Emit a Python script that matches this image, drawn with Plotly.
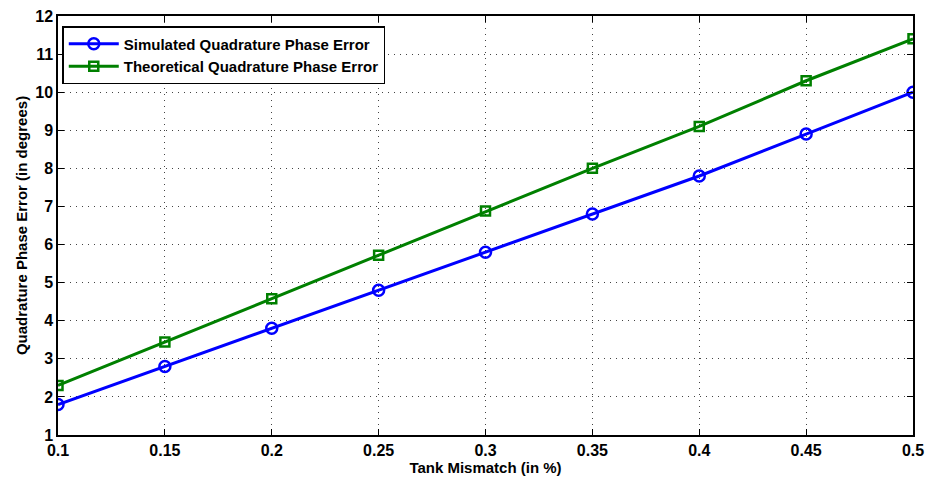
import plotly.graph_objects as go

tank_mismatch = [0.1, 0.15, 0.2, 0.25, 0.3, 0.35, 0.4, 0.45, 0.5]
simulated = [1.8, 2.8, 3.8, 4.8, 5.8, 6.8, 7.8, 8.9, 10.0]
theoretical = [2.3, 3.44, 4.58, 5.72, 6.88, 8.0, 9.1, 10.3, 11.4]
x_ticks = [0.1, 0.15, 0.2, 0.25, 0.3, 0.35, 0.4, 0.45, 0.5]
x_tick_text = ["0.1", "0.15", "0.2", "0.25", "0.3", "0.35", "0.4", "0.45", "0.5"]
y_ticks = list(range(1, 13))

fig = go.Figure()
fig.add_trace(go.Scatter(
    x=tank_mismatch, y=simulated, mode="lines+markers",
    name="Simulated Quadrature Phase Error",
    line=dict(color="#0000ff", width=3),
    marker=dict(symbol="circle-open", size=11, color="#0000ff", line=dict(width=2.5)),
))
fig.add_trace(go.Scatter(
    x=tank_mismatch, y=theoretical, mode="lines+markers",
    name="Theoretical Quadrature Phase Error",
    line=dict(color="#008000", width=3),
    marker=dict(symbol="square-open", size=9, color="#008000", line=dict(width=2.5)),
))

font_family = "Liberation Sans, Arial, sans-serif"
axis_common = dict(
    showline=True, linecolor="black", linewidth=1.5, mirror="ticks",
    ticks="inside", ticklen=6, tickcolor="black", tickwidth=1,
    showgrid=True, gridcolor="#444444", griddash="1px,5px", gridwidth=1,
    zeroline=False, automargin=False,
    tickfont=dict(family=font_family, size=16, color="black", weight="bold"),
)

fig.update_layout(
    width=925, height=478,
    margin=dict(l=58, r=12, t=16, b=43),
    plot_bgcolor="white", paper_bgcolor="white",
    font=dict(family=font_family, color="black"),
    xaxis=dict(range=[0.1, 0.5], tickvals=x_ticks, ticktext=x_tick_text,
               title=dict(text="Tank Mismatch (in %)", standoff=2,
                          font=dict(family=font_family, size=15, color="black", weight="bold")),
               **axis_common),
    yaxis=dict(range=[1, 12], tickvals=y_ticks,
               title=dict(text="Quadrature Phase Error (in degrees)", standoff=4,
                          font=dict(family=font_family, size=15, color="black", weight="bold")),
               **axis_common),
    legend=dict(x=0.005, y=0.976, xanchor="left", yanchor="top",
                bgcolor="white", bordercolor="black", borderwidth=1.5,
                font=dict(family=font_family, size=15, color="black", weight="bold"),
                tracegroupgap=0, itemwidth=50),
    showlegend=True,
)

fig.write_html("out.html")
